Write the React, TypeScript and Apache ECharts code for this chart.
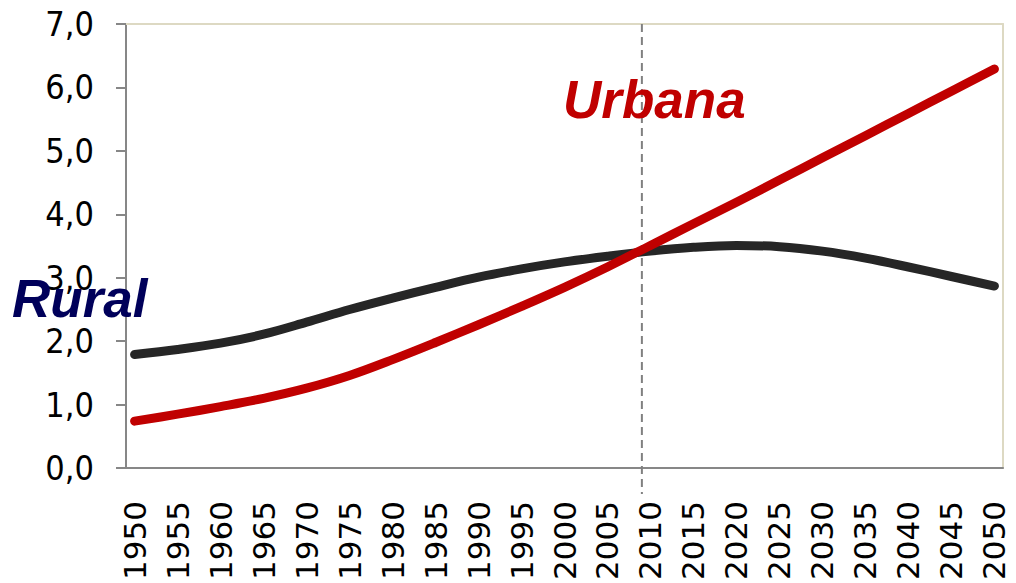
import React, { useEffect, useRef } from "react";
import * as echarts from "echarts";

const years = [1950, 1955, 1960, 1965, 1970, 1975, 1980, 1985, 1990, 1995, 2000, 2005, 2010, 2015, 2020, 2025, 2030, 2035, 2040, 2045, 2050];
const rural = [1.79, 1.87, 1.97, 2.11, 2.30, 2.50, 2.68, 2.85, 3.01, 3.14, 3.25, 3.34, 3.42, 3.48, 3.51, 3.49, 3.42, 3.31, 3.17, 3.02, 2.87];
const urbana = [0.74, 0.85, 0.97, 1.10, 1.26, 1.46, 1.71, 1.98, 2.26, 2.55, 2.85, 3.17, 3.51, 3.85, 4.19, 4.54, 4.89, 5.24, 5.59, 5.94, 6.29];
const crossYear = 2009;
const yMin = 0;
const yMax = 7;
const seriesNames = ["Rural", "Urbana"];

export default function App() {
  const ref = useRef<HTMLDivElement>(null);
  useEffect(() => {
    const chart = echarts.init(ref.current!, null, { renderer: "svg" });
    const gray = "#878787";
    const beige = "#ddd9c3";
    chart.setOption({
      animation: false,
      backgroundColor: "#ffffff",
      grid: { left: 126, top: 24, right: 13, bottom: 107 },
      xAxis: [
        {
          type: "value",
          min: 1949,
          max: 2051,
          axisLine: { show: true, onZero: false, lineStyle: { color: gray, width: 2 } },
          axisTick: { show: false },
          splitLine: { show: false },
          axisLabel: {
            customValues: years,
            rotate: 90,
            margin: 33,
            color: "#000",
            fontFamily: "DejaVu Sans",
            fontSize: 31,
            formatter: (v: number) => String(v),
          },
        },
        {
          type: "value",
          position: "top",
          min: 1949,
          max: 2051,
          axisLine: { show: true, onZero: false, lineStyle: { color: beige, width: 2 } },
          axisTick: { show: false },
          axisLabel: { show: false },
          splitLine: { show: false },
        },
      ],
      yAxis: [
        {
          type: "value",
          min: yMin,
          max: yMax,
          interval: 1,
          axisLine: { show: true, onZero: false, lineStyle: { color: gray, width: 2 } },
          axisTick: { show: true, inside: false, length: 10, lineStyle: { color: gray, width: 2 } },
          splitLine: { show: false },
          axisLabel: {
            margin: 32,
            color: "#000",
            fontFamily: "'Liberation Sans Narrow', 'DejaVu Sans Condensed', 'Liberation Sans'",
            fontSize: 34,
            formatter: (v: number) => v.toFixed(1).replace(".", ","),
          },
        },
        {
          type: "value",
          position: "right",
          min: yMin,
          max: yMax,
          axisLine: { show: true, onZero: false, lineStyle: { color: beige, width: 2 } },
          axisTick: { show: false },
          axisLabel: { show: false },
          splitLine: { show: false },
        },
      ],
      series: [
        {
          name: seriesNames[0],
          type: "line",
          xAxisIndex: 0,
          yAxisIndex: 0,
          data: years.map((y, i) => [y, rural[i]]),
          smooth: 0.35,
          showSymbol: false,
          z: 3,
          lineStyle: { color: "#262626", width: 9, cap: "round", join: "round" },
        },
        {
          name: seriesNames[1],
          type: "line",
          xAxisIndex: 0,
          yAxisIndex: 0,
          data: years.map((y, i) => [y, urbana[i]]),
          smooth: 0.35,
          showSymbol: false,
          z: 4,
          lineStyle: { color: "#c00000", width: 9, cap: "round", join: "round" },
        },
      ],
    });
    const top = chart.convertToPixel({ xAxisIndex: 0, yAxisIndex: 0 }, [crossYear, yMax]) as number[];
    const bottom = chart.convertToPixel({ xAxisIndex: 0, yAxisIndex: 0 }, [crossYear, -0.41]) as number[];
    chart.setOption({
      graphic: [
        {
          type: "line",
          z: 1,
          shape: { x1: top[0], y1: top[1], x2: bottom[0], y2: bottom[1] },
          style: { stroke: "#808080", lineWidth: 2, lineDash: [8, 5] },
        },
        {
          type: "text",
          z: 100,
          x: 563,
          y: 99,
          style: {
            text: seriesNames[1],
            fill: "#c00000",
            font: "italic bold 53px 'Liberation Sans', Arial, sans-serif",
            verticalAlign: "middle",
            align: "left",
          },
        },
        {
          type: "text",
          z: 100,
          x: 12,
          y: 298,
          style: {
            text: seriesNames[0],
            fill: "#00005a",
            font: "italic bold 53px 'Liberation Sans', Arial, sans-serif",
            verticalAlign: "middle",
            align: "left",
          },
        },
      ],
    });
    return () => chart.dispose();
  }, []);
  return <div ref={ref} style={{ position: "fixed", left: 0, top: 0, width: 1016, height: 583 }} />;
}
